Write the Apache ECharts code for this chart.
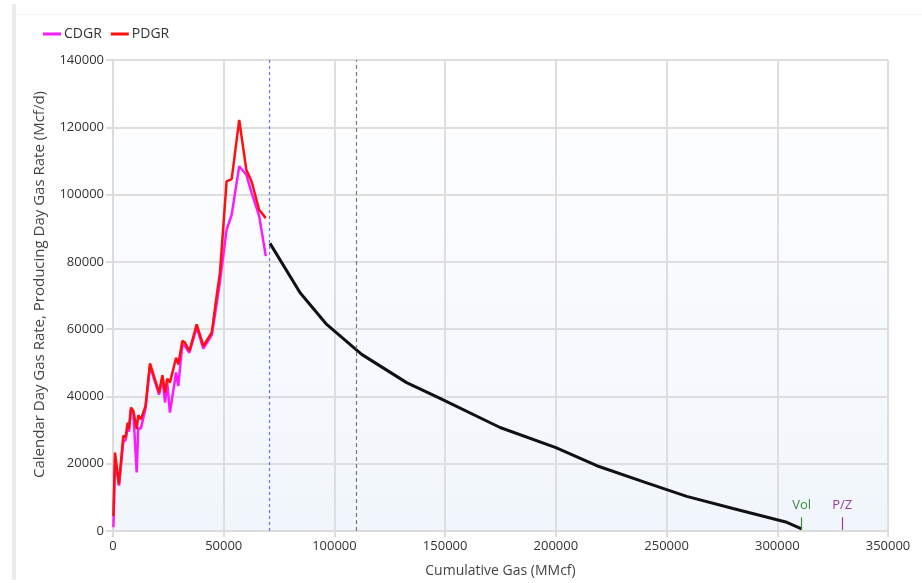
<!DOCTYPE html>
<html>
<head>
<meta charset="utf-8">
<script src="https://cdn.jsdelivr.net/npm/echarts@6/dist/echarts.min.js"></script>
<style>
  html, body { margin: 0; padding: 0; background: #ffffff; }
  #chart { width: 922px; height: 583px; }
</style>
</head>
<body>
<div id="chart"></div>
<script>
// Historical production: cumulative gas (MMcf) and daily rates (Mcf/d)
const cumGas = [200, 900, 2700, 4650, 5700, 6600, 7200, 8100, 9200, 10700, 11400, 12600, 14700, 16700,
  20800, 22300, 23500, 24500, 25700, 28500, 29500, 31300, 32500, 34500, 37800, 40800, 44600, 46800,
  48300, 51300, 53600, 57000, 60200, 62600, 66000, 69000];
const pdgr = [4500, 23300, 13900, 28300, 27800, 32200, 30300, 36700, 35700, 30300, 34400, 33200, 37200, 49800,
  41100, 46300, 41100, 45300, 44100, 51500, 49500, 56500, 56000, 53500, 61400, 55000, 59000, 69800,
  76700, 103900, 104600, 122200, 107400, 103900, 95500, 93000];
const cdgr = [1100, 21500, 13500, 26500, 27000, 30500, 29500, 36000, 35000, 17400, 30500, 30500, 36500, 49000,
  40500, 45500, 38200, 44000, 35200, 47100, 43100, 55500, 55000, 53000, 60500, 54200, 58200, 67500,
  74000, 89600, 94000, 108400, 105900, 100500, 93700, 81700];

// Forecast decline
const fcstCum = [70900, 84500, 96500, 112300, 132600, 147700, 174800, 200000, 218500, 240000, 259100, 280000, 304300, 311000];
const fcstRate = [85500, 70800, 61400, 52500, 44100, 39450, 30760, 24800, 19400, 14540, 10300, 6700, 2580, 600];

// Reference cumulative volumes
const startForecastCum = 70500;
const refCum = 110000;
const volCum = 311000;
const pzCum = 329300;
const markerTop = 4100;

const xTicks = { min: 0, max: 350000, interval: 50000 };
const yTicks = { min: 0, max: 140000, interval: 20000 };

const zip = (xs, ys) => xs.map((x, i) => [x, ys[i]]);
const plain = v => String(v);

const FONT = '"Open Sans", "Noto Sans", sans-serif';
const chart = echarts.init(document.getElementById('chart'), null, { renderer: 'canvas' });

const markerLine = (x, text, color) => ({
  type: 'line',
  data: [],
  silent: true,
  markLine: {
    symbol: 'none',
    silent: true,
    animation: false,
    lineStyle: { color: color, width: 1.2, type: 'solid' },
    label: { show: true, position: 'end', formatter: text, color: color, fontFamily: FONT, fontSize: 13, distance: 5 },
    data: [[{ coord: [x, 300] }, { coord: [x, markerTop] }]]
  }
});

chart.setOption({
  animation: false,
  backgroundColor: '#ffffff',
  graphic: [
    { type: 'rect', shape: { x: 12, y: 4, width: 4, height: 576 }, style: { fill: '#ebebeb' }, z: -10 },
    { type: 'rect', shape: { x: 16, y: 14, width: 906, height: 1 }, style: { fill: '#f4f4f4' }, z: -10 }
  ],
  legend: {
    left: 38,
    top: 22,
    itemWidth: 18,
    itemHeight: 3,
    itemGap: 9,
    icon: 'rect',
    textStyle: { fontFamily: FONT, fontSize: 14, color: '#333333', padding: [0, 0, 0, -2] },
    data: ['CDGR', 'PDGR']
  },
  grid: {
    left: 113, right: 34, top: 60, bottom: 51,
    show: true,
    borderWidth: 0,
    backgroundColor: {
      type: 'linear', x: 0, y: 0, x2: 0, y2: 1,
      colorStops: [{ offset: 0, color: '#ffffff' }, { offset: 1, color: '#f1f6fc' }]
    }
  },
  xAxis: {
    type: 'value',
    min: xTicks.min, max: xTicks.max, interval: xTicks.interval,
    name: 'Cumulative Gas (MMcf)',
    nameLocation: 'middle',
    nameGap: 33,
    nameTextStyle: { fontFamily: FONT, fontSize: 14, color: '#444444' },
    axisLine: { show: true, lineStyle: { color: '#dcdcdc', width: 2 } },
    axisTick: { show: true, length: 6, lineStyle: { color: '#dcdcdc', width: 2 } },
    axisLabel: { fontFamily: FONT, fontSize: 13, color: '#333333', margin: 9, formatter: plain },
    splitLine: { show: true, lineStyle: { color: '#dedede', width: 2 } }
  },
  yAxis: {
    type: 'value',
    min: yTicks.min, max: yTicks.max, interval: yTicks.interval,
    name: 'Calendar Day Gas Rate, Producing Day Gas Rate (Mcf/d)',
    nameLocation: 'middle',
    nameGap: 66,
    nameTextStyle: { fontFamily: FONT, fontSize: 15, color: '#444444', padding: [0, 0, 0, 22] },
    axisLine: { show: true, lineStyle: { color: '#dcdcdc', width: 2 } },
    axisTick: { show: true, length: 7, lineStyle: { color: '#dcdcdc', width: 2 } },
    axisLabel: { fontFamily: FONT, fontSize: 13, color: '#333333', margin: 9, formatter: plain },
    splitLine: { show: true, lineStyle: { color: '#dedede', width: 2 } }
  },
  series: [
    {
      name: 'Forecast',
      type: 'line',
      data: zip(fcstCum, fcstRate),
      showSymbol: false,
      lineStyle: { color: '#111111', width: 3 },
      itemStyle: { color: '#111111' },
      z: 3,
      markLine: {
        symbol: 'none',
        silent: true,
        animation: false,
        label: { show: false },
        data: [
          { xAxis: startForecastCum, lineStyle: { color: '#6f6ff5', width: 1.2, type: [3, 3] } },
          { xAxis: refCum, lineStyle: { color: '#7a7a7a', width: 1.2, type: [4, 3] } }
        ]
      }
    },
    {
      name: 'CDGR',
      type: 'line',
      data: zip(cumGas, cdgr),
      showSymbol: false,
      lineStyle: { color: '#ff19ff', width: 2.5 },
      itemStyle: { color: '#ff19ff' },
      z: 4
    },
    {
      name: 'PDGR',
      type: 'line',
      data: zip(cumGas, pdgr),
      showSymbol: false,
      lineStyle: { color: '#ff0f0f', width: 2.5 },
      itemStyle: { color: '#ff0f0f' },
      z: 5
    },
    markerLine(volCum, 'Vol', '#3c8c3c'),
    markerLine(pzCum, 'P/Z', '#9b3a9b')
  ]
});
</script>
</body>
</html>
